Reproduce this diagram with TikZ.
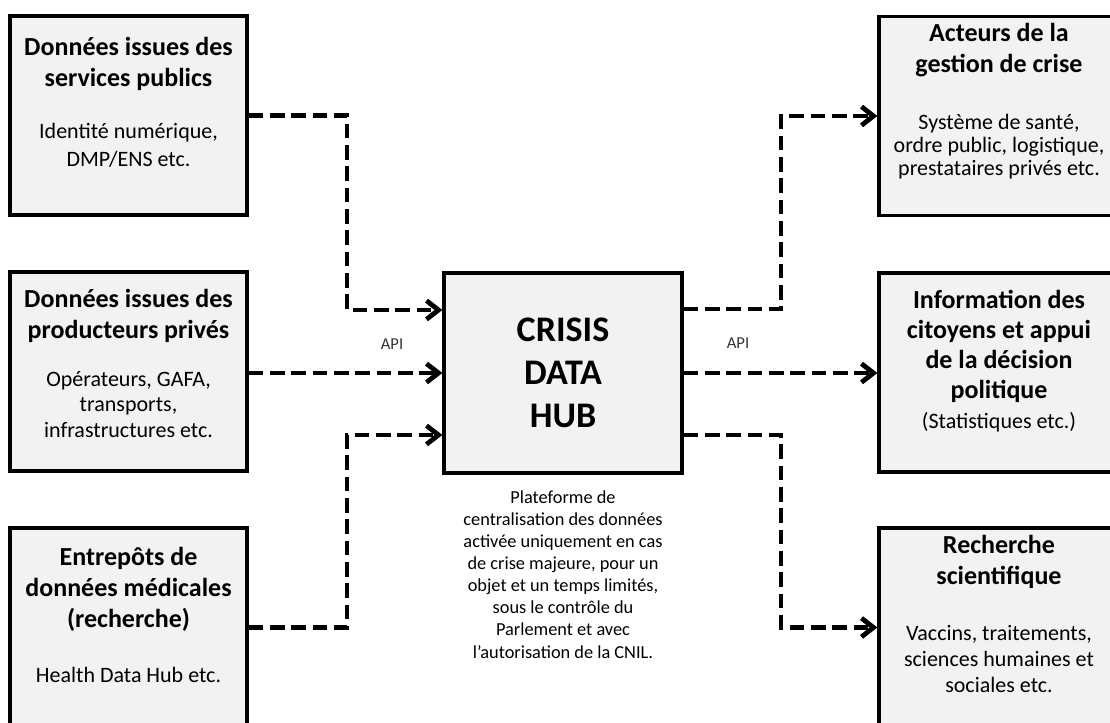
\documentclass[tikz,border=0pt]{standalone}
\usepackage{fontspec}
\setmainfont{Carlito}
\usetikzlibrary{arrows.meta,calc}

\definecolor{boxfill}{HTML}{F2F2F2}

\begin{document}
\begin{tikzpicture}[%
    x=0.75pt, y=-0.75pt,
    databox/.style={
        draw=black,
        fill=boxfill,
        line width=2.4pt,
        minimum width=177.75pt,
        minimum height=149.25pt,
        inner sep=0pt
    },
    boxtitle/.style={
        font=\fontsize{19.5}{23.25}\selectfont\bfseries,
        align=center,
        inner sep=0pt,
        anchor=base
    },
    boxinfo/.style={
        font=\fontsize{16.5}{19}\selectfont,
        align=center,
        inner sep=0pt,
        anchor=base
    },
    apilabel/.style={
        font=\fontsize{12.5}{15}\selectfont,
        text=black!80,
        inner sep=0pt,
        anchor=base
    },
    flow/.style={
        line width=3.6pt,
        dash pattern=on 11pt off 5pt,
        -{Straight Barb[length=9pt,width=14pt]}
    }
]
    % Keep the picture at the size of the original.
    \clip (0,0) rectangle (1110,722);

    % Data sources on the left.
    \node[databox] (pub)  at (128.5,115.5) {};
    \node[databox] (priv) at (128.5,371.5) {};
    \node[databox] (med)  at (128.5,627.5) {};

    % The hub in the middle.
    \node[databox, minimum width=178.5pt, minimum height=150pt,
          font=\fontsize{27}{32.25}\selectfont\bfseries, align=center]
        (hub) at (563,373) {CRISIS\\DATA\\HUB};

    % Users of the data on the right.
    \node[databox, minimum width=179.25pt] (act)  at (998.5,116)   {};
    \node[databox, minimum width=179.25pt] (info) at (998.5,372.5) {};
    \node[databox, minimum width=179.25pt] (rech) at (998.5,627.5) {};

    % Texts of the left boxes (placed at the baseline of their last line).
    \node[boxtitle] (pub-title) at (128.5,86) {Données issues des\\services publics};
    \node[boxinfo, font=\fontsize{16.5}{20.5}\selectfont]
        (pub-info) at (128.5,166) {Identité numérique,\\DMP/ENS etc.};
    \node[boxtitle] (priv-title) at (128.5,338) {Données issues des\\producteurs privés};
    \node[boxinfo] (priv-info) at (128.5,437) {Opérateurs, GAFA,\\transports,\\infrastructures etc.};
    \node[boxtitle] (med-title) at (128.5,627) {Entrepôts de\\données médicales\\(recherche)};
    \node[boxinfo] (med-info) at (128.5,682) {Health Data Hub etc.};

    % Texts of the right boxes.
    \node[boxtitle] (act-title) at (999,72) {Acteurs de la\\gestion de crise};
    \node[boxinfo, font=\fontsize{16.5}{17}\selectfont]
        (act-info) at (999,175) {Système de santé,\\ordre public, logistique,\\prestataires privés etc.};
    \node[boxtitle, font=\fontsize{19.5}{22.5}\selectfont\bfseries]
        (info-title) at (999,398) {Information des\\citoyens et appui\\de la décision\\politique};
    \node[boxinfo] (info-info) at (999,428) {(Statistiques etc.)};
    \node[boxtitle] (rech-title) at (999,584) {Recherche\\scientifique};
    \node[boxinfo, font=\fontsize{16.5}{19.5}\selectfont]
        (rech-info) at (999,692) {Vaccins, traitements,\\sciences humaines et\\sociales etc.};

    % Note under the hub.
    \node[boxinfo, font=\fontsize{13.75}{16.6}\selectfont] (hub-note) at (563,658)
        {Plateforme de\\centralisation des données\\activée uniquement en cas\\de crise majeure, pour un\\objet et un temps limités,\\sous le contrôle du\\Parlement et avec\\l’autorisation de la CNIL.};

    % API labels.
    \node[apilabel] (api-in)  at (392,349) {API};
    \node[apilabel] (api-out) at (738,348) {API};

    % Bends and ports of the connectors.
    \coordinate (in-bend)  at (347,0);
    \coordinate (out-bend) at (781,0);
    \coordinate (hub-in1)  at ($(hub.west)+(0,-63)$);
    \coordinate (hub-in3)  at ($(hub.west)+(0,62)$);
    \coordinate (hub-out1) at ($(hub.east)+(0,-64)$);
    \coordinate (hub-out3) at ($(hub.east)+(0,62)$);

    % Connectors into the hub.
    \draw[flow] (pub.east) -- (pub.east -| in-bend) |- (hub-in1);
    \draw[flow] (priv.east |- hub.west) -- (hub.west);
    \draw[flow] (med.east) -- (med.east -| in-bend) |- (hub-in3);

    % Connectors out of the hub.
    \draw[flow] (hub-out1) -- (hub-out1 -| out-bend) |- (act.west);
    \draw[flow] (hub.east) -- (hub.east -| info.west);
    \draw[flow] (hub-out3) -- (hub-out3 -| out-bend) |- (rech.west);
\end{tikzpicture}
\end{document}
